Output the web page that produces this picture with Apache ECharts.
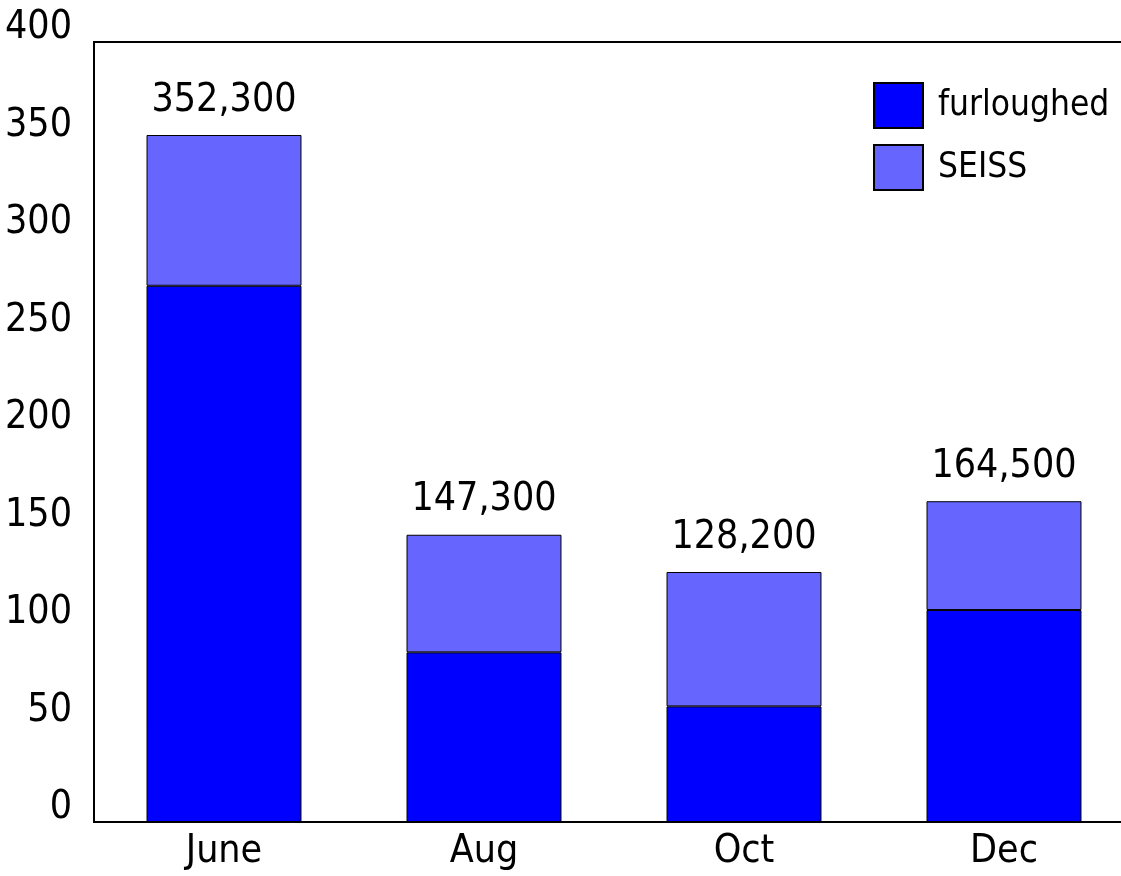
<!DOCTYPE html>
<html>
<head>
<meta charset="utf-8">
<script src="https://cdn.jsdelivr.net/npm/echarts@6/dist/echarts.min.js"></script>
<style>
  html, body { margin: 0; padding: 0; background: #fff; }
  #chart { width: 1121px; height: 876px; }
</style>
</head>
<body>
<div id="chart"></div>
<script>
// data (thousands)
const categories = ["June", "Aug", "Oct", "Dec"];
const furloughed = [275, 87, 59.3, 108.7];
const seiss = [77.3, 60.3, 68.9, 55.8];
const yTicks = [0, 50, 100, 150, 200, 250, 300, 350, 400];

const font = "'Liberation Sans Narrow', 'DejaVu Sans Condensed', 'Liberation Sans', sans-serif";

const chart = echarts.init(document.getElementById("chart"));

chart.setOption({
  animation: false,
  textStyle: { fontFamily: font, color: "#000" },
  grid: {
    left: 94,
    width: 1040,
    top: 42,
    bottom: 54,
    outerBoundsMode: "none",
    show: true,
    borderColor: "#000",
    borderWidth: 2,
  },
  legend: {
    orient: "vertical",
    left: 868,
    top: 77,
    icon: "rect",
    itemWidth: 49,
    itemHeight: 45,
    itemGap: 15,
    data: ["furloughed", "SEISS"],
    textStyle: { fontFamily: font, fontSize: 35, color: "#000", padding: [0, 0, 0, 10] },
  },
  xAxis: {
    type: "category",
    data: categories,
    axisLine: { show: true, lineStyle: { color: "#000", width: 2 } },
    axisTick: { show: false },
    axisLabel: {
      color: "#000",
      fontFamily: font,
      fontSize: 39,
      lineHeight: 39,
      margin: 10,
    },
  },
  yAxis: {
    type: "value",
    min: yTicks[0],
    max: yTicks[yTicks.length - 1],
    interval: 50,
    splitLine: { show: false },
    axisTick: { show: false },
    axisLine: { show: true, lineStyle: { color: "#000", width: 2 } },
    axisLabel: {
      color: "#000",
      fontFamily: font,
      fontSize: 39,
      lineHeight: 28,
      verticalAlign: "bottom",
      margin: 22,
    },
  },
  series: [
    {
      name: "furloughed",
      type: "bar",
      stack: "total",
      barWidth: "59.6%",
      data: furloughed,
      itemStyle: { color: "#0000ff", borderColor: "#000", borderWidth: 1 },
    },
    {
      name: "SEISS",
      type: "bar",
      stack: "total",
      barWidth: "59.6%",
      data: seiss,
      itemStyle: { color: "#6666ff", borderColor: "#000", borderWidth: 1 },
      label: {
        show: true,
        position: "top",
        distance: 15,
        color: "#000",
        fontFamily: font,
        fontSize: 39,
        lineHeight: 39,
        formatter: (p) =>
          Math.round((furloughed[p.dataIndex] + seiss[p.dataIndex]) * 1000).toLocaleString("en-US"),
      },
    },
  ],
});
</script>
</body>
</html>
